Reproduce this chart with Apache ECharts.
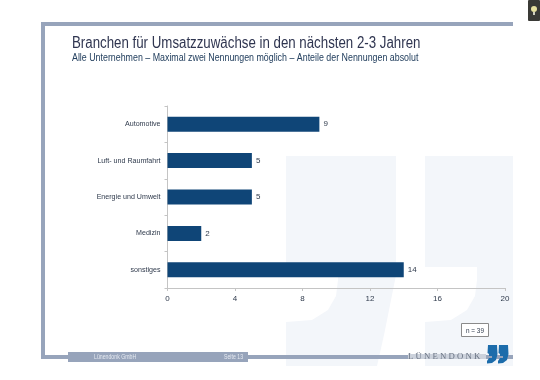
<!DOCTYPE html>
<html>
<head>
<meta charset="utf-8">
<title>Branchen</title>
<style>
html,body{margin:0;padding:0;background:#fff;}
#main{width:540px;height:380px;}
</style>
<script src="https://cdn.jsdelivr.net/npm/echarts@6/dist/echarts.min.js"></script>
</head>
<body>
<div id="main"></div>
<script>
var categories = ['Automotive', 'Luft- und Raumfahrt', 'Energie und Umwelt', 'Medizin', 'sonstiges'];
var values = [9, 5, 5, 2, 14];
var axisMax = 20;
var axisStep = 4;

var frameColor = '#97a4bb';
var textColor = '#2f3a4c';
var waterColor = '#f3f6fa';
var sans = '"Liberation Sans", Arial, sans-serif';

// Wasserzeichen: zwei grosse Anfuehrungszeichen
var waterLeft = [[286,156],[396,156],[396,275],[391,300],[384,335],[377,366],[286,366],[286,322],[312,320],[328,310],[336,296],[338,280],[338,267],[286,267]];
var waterRight = [[425,156],[513,156],[513,366],[425,366],[425,322],[451,320],[467,310],[475,296],[477,280],[477,267],[425,267]];

// Logo: kleine blaue Zeichen
function smallJ(x) {
	return {
		type: 'polygon',
		z: 5,
		shape: {points: [[x+1,345],[x+10,345],[x+10.5,354],[x+9,360],[x+5,363],[x,363.5],[x,361],[x+2,358],[x+2,354],[x+0.5,353]]},
		style: {fill: '#1c6cab'}
	};
}

var chart = echarts.init(document.getElementById('main'));
var option = {
	backgroundColor: '#fff',
	animation: false,
	textStyle: {fontFamily: sans},
	grid: {left: 167.5, right: 35, top: 106, bottom: 92, containLabel: false},
	xAxis: {
		type: 'value',
		min: 0,
		max: axisMax,
		interval: axisStep,
		splitLine: {show: false},
		axisLine: {show: true, lineStyle: {color: '#c4c4c4', width: 1}},
		axisTick: {show: true, length: 3, lineStyle: {color: '#c4c4c4'}},
		axisLabel: {color: textColor, fontSize: 8, fontFamily: sans, margin: 7}
	},
	yAxis: {
		type: 'category',
		inverse: true,
		data: categories,
		axisLine: {show: true, lineStyle: {color: '#c4c4c4', width: 1}},
		axisTick: {show: true, length: 3, lineStyle: {color: '#c4c4c4'}},
		axisLabel: {color: textColor, fontSize: 7.1, fontFamily: sans, margin: 7, padding: [2, 0, 0, 0]}
	},
	series: [{
		type: 'bar',
		data: values,
		barWidth: 15,
		itemStyle: {color: '#0f4577'},
		label: {show: true, position: 'right', distance: 4, color: textColor, fontSize: 8, fontFamily: sans}
	}],
	graphic: [
		{type: 'polygon', z: -10, shape: {points: waterLeft}, style: {fill: waterColor}},
		{type: 'polygon', z: -10, shape: {points: waterRight}, style: {fill: waterColor}},
		{type: 'rect', z: 1, shape: {x: 41, y: 22, width: 472, height: 4}, style: {fill: frameColor}},
		{type: 'rect', z: 1, shape: {x: 41, y: 22, width: 4, height: 337}, style: {fill: frameColor}},
		{type: 'rect', z: 1, shape: {x: 41, y: 355, width: 472, height: 4}, style: {fill: frameColor}},
		{type: 'rect', z: 2, shape: {x: 68, y: 352, width: 180, height: 10}, style: {fill: frameColor}},
		{type: 'text', z: 3, x: 94, y: 353.5, scaleX: 0.8, style: {text: 'Lünendonk GmbH', fill: '#e6eaf1', font: '6.5px "Liberation Sans"'}},
		{type: 'text', z: 3, x: 224, y: 353.5, scaleX: 0.8, style: {text: 'Seite 13', fill: '#e6eaf1', font: '6.5px "Liberation Sans"'}},
		{type: 'text', z: 3, x: 72, y: 35.5, scaleX: 0.83, style: {text: 'Branchen für Umsatzzuwächse in den nächsten 2-3 Jahren', fill: '#2f3550', font: '16px "Liberation Sans"'}},
		{type: 'text', z: 3, x: 72, y: 53.5, scaleX: 0.885, style: {text: 'Alle Unternehmen – Maximal zwei Nennungen möglich – Anteile der Nennungen absolut', fill: '#24405f', font: '10px "Liberation Sans"'}},
		{type: 'rect', z: 3, shape: {x: 461.5, y: 323.5, width: 27, height: 13}, style: {fill: '#fff', stroke: '#8a8a8a', lineWidth: 1}},
		{type: 'text', z: 4, x: 475, y: 326.5, scaleX: 0.85, style: {text: 'n = 39', fill: textColor, font: '7.5px "Liberation Sans"', align: 'center'}},
		{type: 'rect', z: 3, shape: {x: 408, y: 354, width: 78, height: 5}, style: {fill: '#ccd2dc'}},
		{type: 'text', z: 4, x: 408, y: 352, scaleX: 0.97, style: {text: 'L Ü N E N D O N K', fill: '#6a7484', font: '9px "Liberation Serif"'}},
		smallJ(487),
		smallJ(498),
		{type: 'rect', z: 6, shape: {x: 489, y: 356, width: 3, height: 2}, style: {fill: frameColor}},
		{type: 'rect', z: 6, shape: {x: 500, y: 356, width: 3, height: 2}, style: {fill: frameColor}},
		{type: 'rect', z: 6, shape: {x: 528, y: 0, width: 12, height: 21, r: 1}, style: {fill: '#3a3a36'}},
		{type: 'circle', z: 7, shape: {cx: 534, cy: 9, r: 3}, style: {fill: '#e8e2a0'}},
		{type: 'rect', z: 7, shape: {x: 533, y: 12, width: 2, height: 3}, style: {fill: '#cfcfc0'}}
	]
};
chart.setOption(option);
</script>
</body>
</html>
